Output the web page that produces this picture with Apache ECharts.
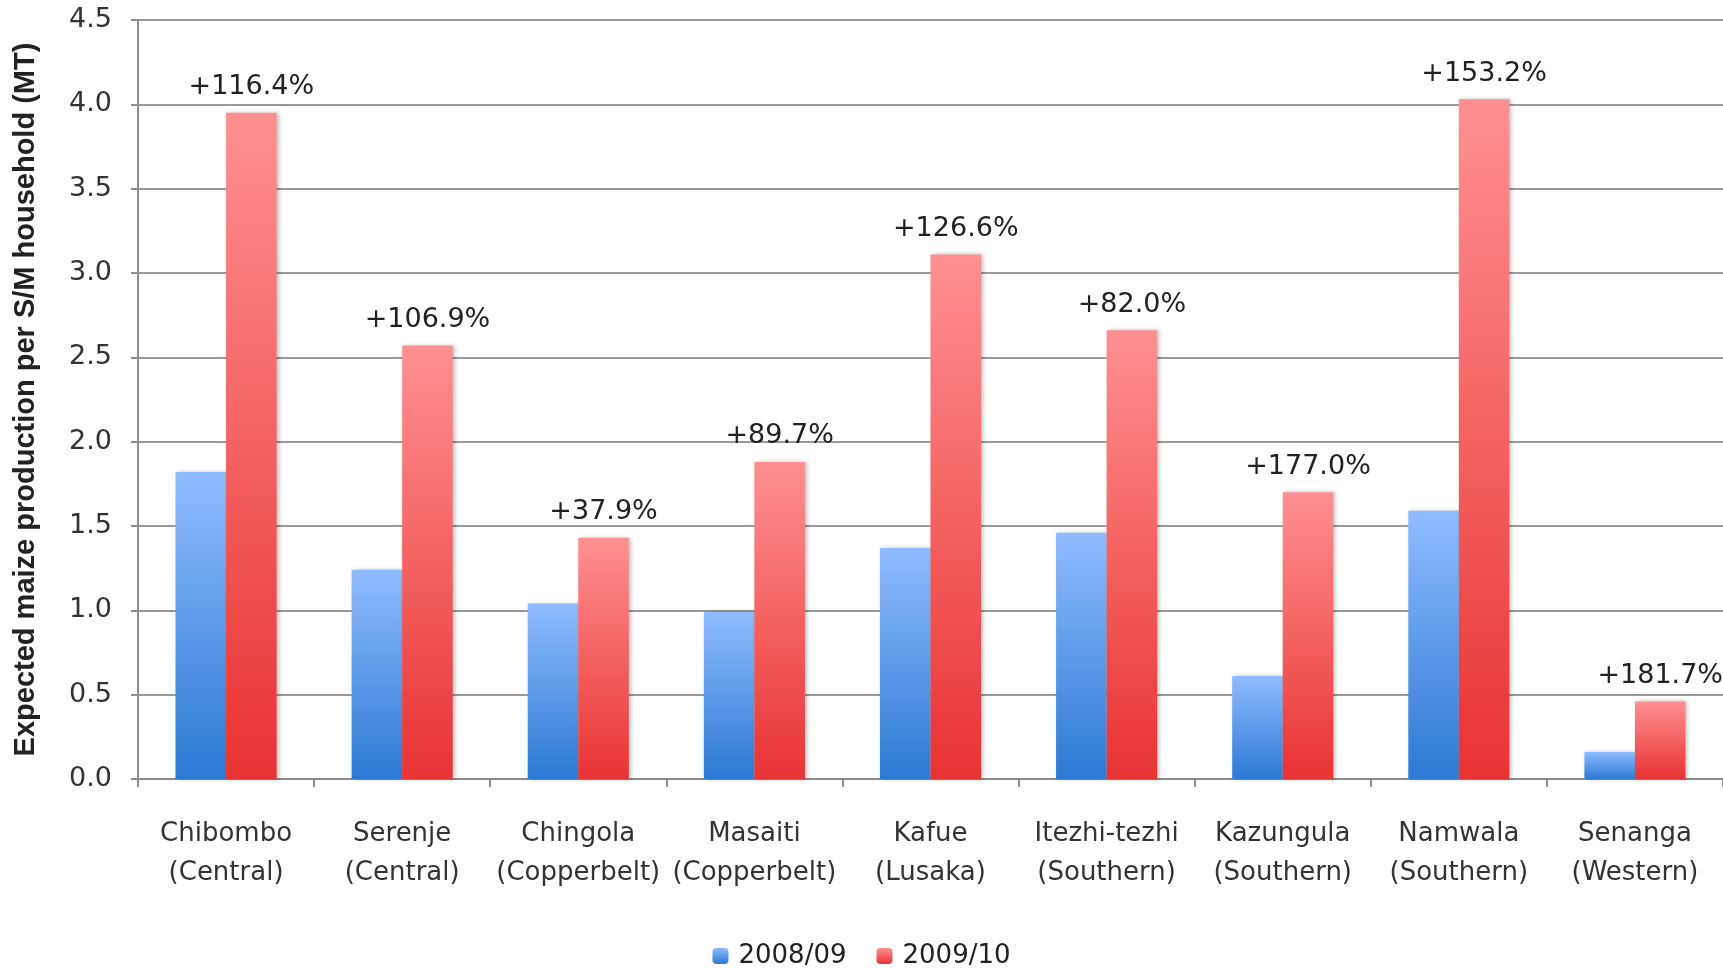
<!DOCTYPE html>
<html>
<head>
<meta charset="utf-8">
<script src="https://cdn.jsdelivr.net/npm/echarts@6/dist/echarts.min.js"></script>
<style>
html,body{margin:0;padding:0;background:#fff;}
#chart{width:1723px;height:968px;}
</style>
</head>
<body>
<div id="chart"></div>
<script>
const categories = [
  "Chibombo\n(Central)", "Serenje\n(Central)", "Chingola\n(Copperbelt)", "Masaiti\n(Copperbelt)",
  "Kafue\n(Lusaka)", "Itezhi-tezhi\n(Southern)", "Kazungula\n(Southern)", "Namwala\n(Southern)", "Senanga\n(Western)"
];
const series2008 = [1.82, 1.24, 1.04, 0.99, 1.37, 1.46, 0.61, 1.59, 0.16];
const series2009 = [3.95, 2.57, 1.43, 1.88, 3.11, 2.66, 1.70, 4.03, 0.46];
const pctLabels = ["+116.4%", "+106.9%", "+37.9%", "+89.7%", "+126.6%", "+82.0%", "+177.0%", "+153.2%", "+181.7%"];
const yTicks = { min: 0, max: 4.5, interval: 0.5 };

const FONT = "DejaVu Sans";
const chart = echarts.init(document.getElementById('chart'));
const blueGrad = new echarts.graphic.LinearGradient(0, 0, 0, 1, [
  { offset: 0, color: '#8fbcff' }, { offset: 1, color: '#2c79d4' }
]);
const redGrad = new echarts.graphic.LinearGradient(0, 0, 0, 1, [
  { offset: 0, color: '#ff9090' }, { offset: 1, color: '#e83333' }
]);
chart.setOption({
  animation: false,
  backgroundColor: '#fff',
  grid: { left: 138, right: 0, top: 20, bottom: 189, containLabel: false },
  legend: {
    bottom: -6, left: 'center',
    itemWidth: 16, itemHeight: 16, itemGap: 30,
    textStyle: { fontFamily: FONT, fontSize: 26, color: '#222', padding: [0, 0, 0, 5] },
    data: ['2008/09', '2009/10']
  },
  xAxis: {
    type: 'category',
    data: categories,
    axisLine: { lineStyle: { color: '#8c8c8c', width: 2 } },
    axisTick: { show: true, length: 8, lineStyle: { color: '#8c8c8c', width: 2 } },
    axisLabel: { fontFamily: FONT, fontSize: 26, color: '#333', lineHeight: 39, margin: 36, interval: 0 }
  },
  yAxis: {
    type: 'value',
    min: yTicks.min, max: yTicks.max, interval: yTicks.interval,
    name: 'Expected maize production per S/M household (MT)',
    nameLocation: 'middle', nameRotate: 90, nameGap: 98,
    nameTextStyle: { fontFamily: "Liberation Sans Narrow, Liberation Sans", fontWeight: 'bold', fontSize: 29, color: '#222' },
    axisLine: { show: true, lineStyle: { color: '#8c8c8c', width: 2 } },
    axisTick: { show: true, length: 7, lineStyle: { color: '#8c8c8c', width: 2 } },
    axisLabel: { fontFamily: FONT, fontSize: 27, color: '#333', margin: 26, formatter: v => v.toFixed(1) },
    splitLine: { lineStyle: { color: '#999', width: 2 } }
  },
  series: [
    {
      name: '2008/09', type: 'bar', data: series2008,
      barGap: '0%', barCategoryGap: '42.6%',
      itemStyle: { color: blueGrad, shadowColor: 'rgba(0,0,0,0.25)', shadowBlur: 4, shadowOffsetX: 2 }
    },
    {
      name: '2009/10', type: 'bar', data: series2009,
      barGap: '0%', barCategoryGap: '42.6%',
      itemStyle: { color: redGrad, shadowColor: 'rgba(0,0,0,0.25)', shadowBlur: 4, shadowOffsetX: 2 },
      label: {
        show: true, position: 'top', distance: 12,
        fontFamily: FONT, fontSize: 27, color: '#222',
        formatter: p => pctLabels[p.dataIndex]
      }
    }
  ]
});
</script>
</body>
</html>
